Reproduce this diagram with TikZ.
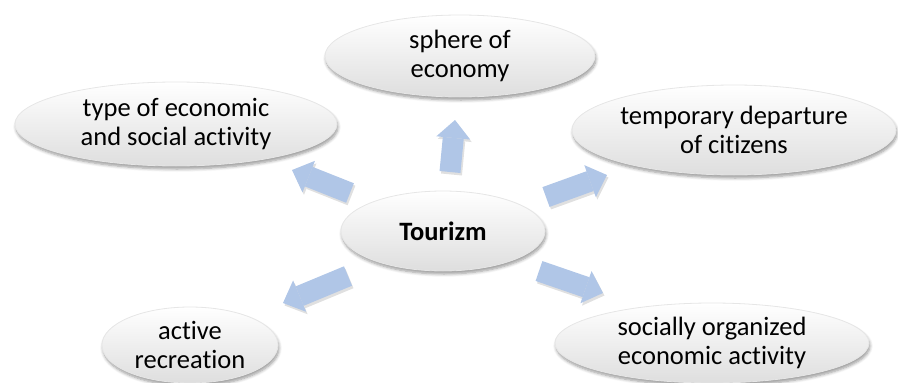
\documentclass[tikz,border=0pt]{standalone}
\usepackage{fontspec}
\setmainfont[Ligatures=NoCommon]{Carlito}
\usetikzlibrary{shapes.geometric,arrows.meta,shadows.blur}
\definecolor{arrowblue}{RGB}{176,198,231}
\definecolor{ellgray}{RGB}{222,222,222}
\definecolor{ellmid}{RGB}{250,250,250}
\definecolor{ellrim}{RGB}{230,230,230}
\tikzset{
  bubble/.style={ellipse, inner sep=0pt, align=center, draw=ellrim, line width=0.8pt,
    top color=white, middle color=ellmid, bottom color=ellgray,
    blur shadow={shadow xshift=1pt, shadow yshift=-3pt, shadow blur radius=3pt, shadow blur steps=6, shadow opacity=40},
    font=\fontsize{26.5}{29}\selectfont},
  barrow/.style={line width=21pt, draw=arrowblue,
    -{Triangle[length=18pt,width=34pt,line width=0pt]}},
  barrowshadow/.style={line width=21pt, draw=black!12,
    -{Triangle[length=18pt,width=34pt,line width=0pt]}},
}
\begin{document}
\begin{tikzpicture}[x=1pt,y=-1pt]
\useasboundingbox (0,0) rectangle (898,383);
% nodes
\node[bubble, minimum width=322pt, minimum height=84pt] (type) at (176,124) {type of economic\\and social activity};
\node[bubble, minimum width=270pt, minimum height=82pt] (sphere) at (460,56) {sphere of\\economy};
\node[bubble, minimum width=324pt, minimum height=90pt] (temp) at (734,130) {temporary departure\\of citizens};
\node[bubble, minimum width=204pt, minimum height=80pt] (tour) at (443,231) {\textbf{Tourizm}};
\node[bubble, minimum width=176pt, minimum height=76pt] (active) at (190,345) {active\\recreation};
\node[bubble, minimum width=314pt, minimum height=80pt] (social) at (712,343) {socially organized\\economic activity};
% arrow endpoints
\coordinate (ulA) at (350,193); \coordinate (ulB) at (292,170);
\coordinate (llA) at (348,276); \coordinate (llB) at (283,303);
\coordinate (urA) at (546,197); \coordinate (urB) at (607,175);
\coordinate (lrA) at (539,271); \coordinate (lrB) at (603,293);
\coordinate (upA) at (450,172); \coordinate (upB) at (455,120);
\foreach \a/\b in {ulA/ulB, llA/llB, urA/urB, lrA/lrB, upA/upB}{
  \draw[barrowshadow, transform canvas={shift={(1.5pt,-2.5pt)}}] (\a) -- (\b);
}
\foreach \a/\b in {ulA/ulB, llA/llB, urA/urB, lrA/lrB, upA/upB}{
  \draw[barrow] (\a) -- (\b);
}
\end{tikzpicture}
\end{document}
